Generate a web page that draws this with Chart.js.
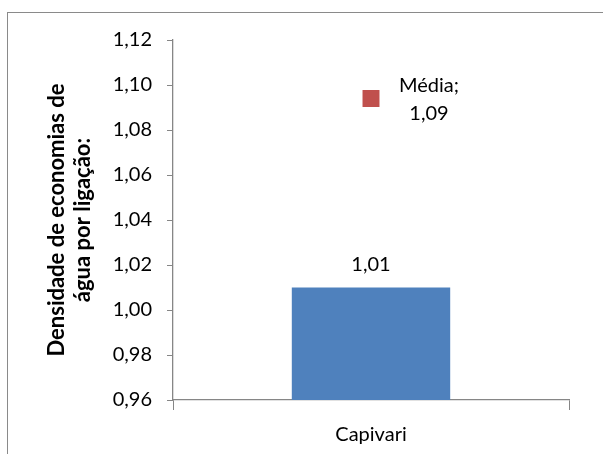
<!DOCTYPE html>
<html lang="pt">
<head>
    <meta charset="UTF-8">
    <title>Densidade de economias</title>
    <style>
        html, body { margin: 0; padding: 0; overflow: hidden; background: #fff; }
        #frame { position: absolute; left: 7px; top: 12px; width: 700px; height: 600px; border: 1px solid #8a8a8a; }
        #wrap { position: absolute; left: 0; top: 0; width: 603px; height: 454px; }
    </style>
</head>
<body>
    <div id="frame"></div>
    <div id="wrap">
        <canvas id="myChart" width="603" height="454"></canvas>
    </div>

    <script src="https://cdn.jsdelivr.net/npm/chart.js"></script>

    <script>
        // dados do gráfico
        let categories = ['Capivari'];
        let barName = 'Capivari';
        let barValues = [1.01];
        let meanName = 'Média';
        let meanValues = [1.094];
        let yTicks = [0.96, 0.98, 1.00, 1.02, 1.04, 1.06, 1.08, 1.10, 1.12];
        let yTitle = ['Densidade de economias de', 'água por ligação:'];

        const fmt = v => v.toFixed(2).replace('.', ',');
        const fontFamily = 'Lato, "Open Sans", sans-serif';

        // rótulos de dados
        const labelPlugin = {
            id: 'labels',
            afterDatasetsDraw(chart) {
                const ctx = chart.ctx;
                ctx.save();
                ctx.fillStyle = '#000';
                ctx.font = '20px ' + fontFamily;
                ctx.textAlign = 'center';
                ctx.textBaseline = 'middle';

                chart.getDatasetMeta(0).data.forEach((bar, i) => {
                    ctx.fillText(fmt(barValues[i]), bar.x, bar.y - 23);
                });
                chart.getDatasetMeta(1).data.forEach((pt, i) => {
                    ctx.fillText(meanName + ';', pt.x + 58, pt.y - 13);
                    ctx.fillText(fmt(meanValues[i]), pt.x + 58, pt.y + 15);
                });
                ctx.restore();
            }
        };

        const ctx = document.getElementById('myChart');

        let chart = new Chart(ctx, {
            type: 'bar',
            data: {
                labels: categories,
                datasets: [
                    {
                        label: barName,
                        data: barValues,
                        backgroundColor: '#4F81BD',
                        categoryPercentage: 1,
                        barPercentage: 0.4,
                        order: 2,
                    },
                    {
                        type: 'line',
                        label: meanName,
                        data: meanValues,
                        showLine: false,
                        pointStyle: 'rect',
                        pointRadius: 12,
                        pointBackgroundColor: '#C0504D',
                        pointBorderColor: '#C0504D',
                        pointBorderWidth: 0,
                        order: 1,
                    },
                ]
            },
            options: {
                responsive: false,
                animation: false,
                layout: { padding: { left: 0, top: 40, right: 34, bottom: 0 } },
                plugins: {
                    legend: { display: false },
                    tooltip: { enabled: false },
                },
                scales: {
                    x: {
                        grid: { drawOnChartArea: false, color: '#868686', tickLength: 10, offset: true },
                        border: { color: '#868686', width: 1.3 },
                        ticks: { color: '#000', font: { family: fontFamily, size: 20 }, padding: 13 },
                        afterFit: s => { s.height = 54; },
                    },
                    y: {
                        min: yTicks[0],
                        max: yTicks[yTicks.length - 1],
                        afterBuildTicks: s => { s.ticks = yTicks.map(v => ({ value: v })); },
                        grid: { drawOnChartArea: false, color: '#868686', tickLength: 6 },
                        border: { color: '#868686', width: 1.3 },
                        ticks: {
                            color: '#000',
                            font: { family: fontFamily, size: 20 },
                            padding: 15,
                            callback: v => fmt(v),
                        },
                        title: {
                            display: true,
                            text: yTitle,
                            color: '#000',
                            font: { family: fontFamily, size: 22, weight: 'bold', lineHeight: 1.18 },
                            padding: { top: 44, bottom: 0 },
                        },
                        afterFit: s => { s.width = 173; },
                    },
                },
            },
            plugins: [labelPlugin],
        });
    </script>
</body>
</html>
